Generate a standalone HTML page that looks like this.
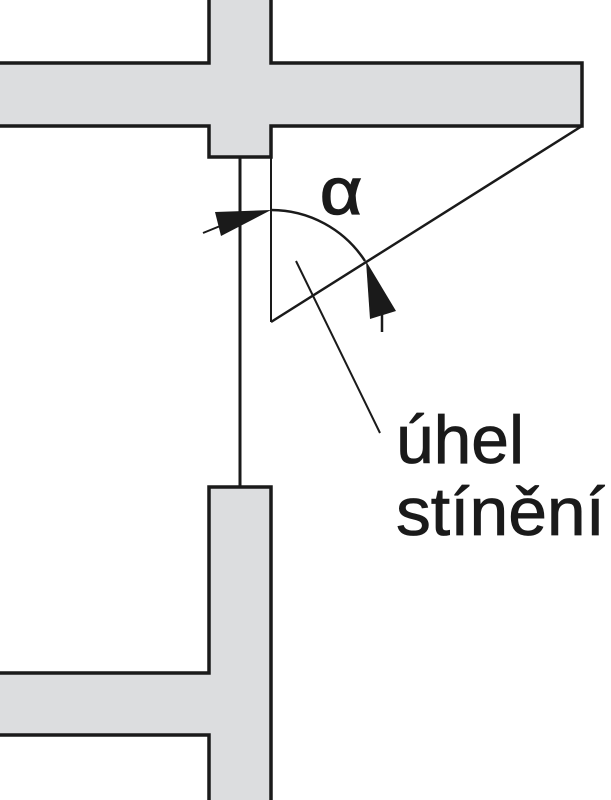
<!DOCTYPE html>
<html><head><meta charset="utf-8"><style>html,body{margin:0;padding:0;background:#fff}svg{display:block}</style></head>
<body>
<svg width="611" height="800" viewBox="0 0 611 800" xmlns="http://www.w3.org/2000/svg">
<g fill="#dcdddf" stroke="#1a1a1a" stroke-width="3.5" stroke-linejoin="miter">
<path d="M-5,63 H209 V-5 H271 V63 H582 V126 H271 V157 H209 V126 H-5 Z"/>
<path d="M-5,673 H209 V487 H271 V805 H209 V735 H-5 Z"/>
</g>
<g stroke="#1a1a1a" fill="none">
<line x1="240" y1="157" x2="240" y2="487" stroke-width="3"/>
<line x1="271" y1="157" x2="271" y2="322" stroke-width="2"/>
<line x1="271" y1="322" x2="582" y2="126" stroke-width="2.5"/>
<path d="M271,210 A112,112 0 0 1 365,261" stroke-width="2.5"/>
<line x1="203" y1="233" x2="230" y2="222" stroke-width="2"/>
<line x1="382" y1="300" x2="382" y2="332" stroke-width="2.5"/>
<line x1="296" y1="261" x2="380" y2="433" stroke-width="2"/>
</g>
<polygon points="271,210 221,236 215,212" fill="#1a1a1a"/>
<polygon points="366,261 370,319 396,311" fill="#1a1a1a"/>
<text x="320" y="214" font-family="Liberation Sans, sans-serif" font-size="66" fill="#1a1a1a" stroke="#1a1a1a" stroke-width="1.5" textLength="42" lengthAdjust="spacingAndGlyphs">α</text>
<g font-family="Liberation Sans, sans-serif" font-size="68" fill="#1a1a1a" stroke="#1a1a1a" stroke-width="0.8">
<text x="396" y="463" textLength="128" lengthAdjust="spacingAndGlyphs">úhel</text>
<text x="396" y="535" textLength="209" lengthAdjust="spacingAndGlyphs">stínění</text>
</g>
</svg>
</body></html>
